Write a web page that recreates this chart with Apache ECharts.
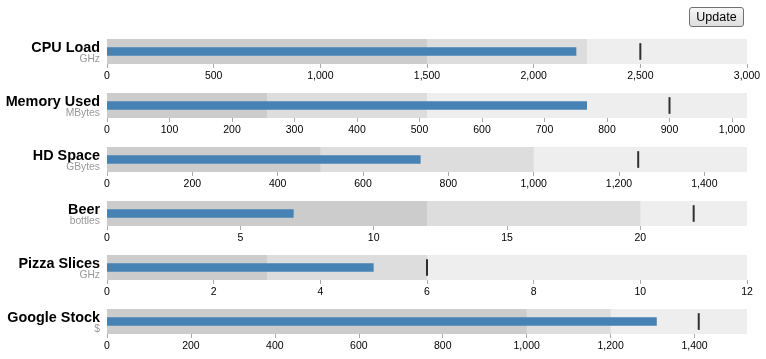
<!DOCTYPE html>
<html>
<head>
<meta charset="utf-8">
<script src="https://cdn.jsdelivr.net/npm/echarts@6/dist/echarts.min.js"></script>
<style>
  html, body { margin: 0; padding: 0; background: #fff; }
  #chart { position: absolute; left: 0; top: 0; width: 766px; height: 359px; }
  #update {
    position: absolute; left: 689px; top: 7px; width: 55px; height: 20px;
    font-family: "Liberation Sans", Arial, sans-serif; font-size: 12.5px; color: #000;
    border: 1px solid #707070; border-radius: 3px; padding: 0;
    background: linear-gradient(#f6f6f6, #dedede); box-sizing: border-box;
  }
</style>
</head>
<body>
<div id="chart"></div>
<button id="update">Update</button>
<script>
const titles     = ['CPU Load', 'Memory Used', 'HD Space', 'Beer', 'Pizza Slices', 'Google Stock'];
const subtitles  = ['GHz', 'MBytes', 'GBytes', 'bottles', 'GHz', '$'];
const rangeLow   = [1500, 256, 500, 12, 3, 1000];
const rangeMid   = [2250, 512, 1000, 20, 6, 1200];
const rangeHigh  = [3000, 1024, 1500, 24, 12, 1525];
const measures   = [2200, 768, 735, 7, 5, 1310];
const markers    = [2500, 900, 1245, 22, 6, 1410];
const tickValues = [
  [0, 500, 1000, 1500, 2000, 2500, 3000],
  [0, 100, 200, 300, 400, 500, 600, 700, 800, 900, 1000],
  [0, 200, 400, 600, 800, 1000, 1200, 1400],
  [0, 5, 10, 15, 20],
  [0, 2, 4, 6, 8, 10, 12],
  [0, 200, 400, 600, 800, 1000, 1200, 1400]
];

const FONT = '"Liberation Sans", Arial, sans-serif';
const LEFT = 107, WIDTH = 640, TOP0 = 39, STEP = 54, H = 25;

const grids = [], xAxes = [], yAxes = [], series = [], graphics = [];
titles.forEach((t, i) => {
  const top = TOP0 + STEP * i;
  grids.push({ left: LEFT, width: WIDTH, top: top, height: H });
  xAxes.push({
    type: 'value', gridIndex: i, min: 0, max: rangeHigh[i],
    axisLine: { show: false },
    splitLine: { show: false },
    axisTick: { show: true, length: 4, customValues: tickValues[i], lineStyle: { color: '#aaa', width: 1 } },
    axisLabel: {
      show: true, customValues: tickValues[i], margin: 7,
      fontFamily: FONT, fontSize: 10.5, color: '#000',
      formatter: v => Number(v).toLocaleString('en-US')
    }
  });
  yAxes.push({ type: 'category', gridIndex: i, data: [t], show: false });
  yAxes.push({ type: 'category', gridIndex: i, data: [t], show: false });
  const yA = 2 * i, yB = 2 * i + 1;
  [[rangeHigh, '#eeeeee'], [rangeMid, '#dddddd'], [rangeLow, '#cccccc']].forEach(([arr, c]) => {
    series.push({
      type: 'bar', xAxisIndex: i, yAxisIndex: yA, data: [arr[i]],
      barWidth: H, barGap: '-100%', itemStyle: { color: c }, silent: true
    });
  });
  series.push({
    type: 'bar', xAxisIndex: i, yAxisIndex: yB, data: [measures[i]],
    barWidth: H / 3, itemStyle: { color: '#4682b4' }, silent: true, z: 3
  });
  series.push({
    type: 'scatter', xAxisIndex: i, yAxisIndex: yA, data: [[markers[i], t]],
    symbol: 'rect', symbolSize: [2, H * 2 / 3], itemStyle: { color: '#000' }, silent: true, z: 4
  });
  graphics.push({
    type: 'text', x: 100, y: top + 9,
    style: { text: t, fontFamily: FONT, fontSize: 14.4, fontWeight: 'bold', fill: '#000', align: 'right', verticalAlign: 'middle' }
  });
  graphics.push({
    type: 'text', x: 100, y: top + 20.5,
    style: { text: subtitles[i], fontFamily: FONT, fontSize: 10.3, fill: '#999', align: 'right', verticalAlign: 'middle' }
  });
});

const chart = echarts.init(document.getElementById('chart'), null, { renderer: 'canvas' });
chart.setOption({
  animation: false,
  grid: grids, xAxis: xAxes, yAxis: yAxes, series: series, graphic: graphics
});
</script>
</body>
</html>
